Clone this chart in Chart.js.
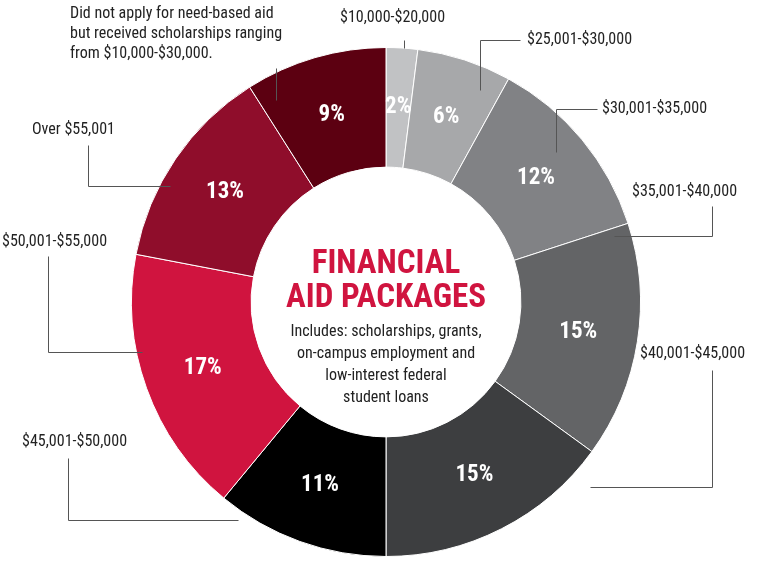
<!DOCTYPE html>
<html><head><meta charset="utf-8">
<script src="https://cdn.jsdelivr.net/npm/chart.js@4"></script>
<style>body{margin:0;background:#fff}canvas{display:block}</style>
</head><body>
<canvas id="c" width="762" height="575"></canvas>
<script>
const categories = ['$10,000-$20,000','$25,001-$30,000','$30,001-$35,000','$35,001-$40,000','$40,001-$45,000','$45,001-$50,000','$50,001-$55,000','Over $55,001','Did not apply for need-based aid'];
const shares = [2, 6, 12, 15, 15, 11, 17, 13, 9];
const colors = ['#c1c2c4','#a7a8aa','#818285','#636466','#3d3e40','#000000','#d0143f','#8f0d2b','#5c0011'];

const FONT = "'Liberation Sans Narrow','Roboto Condensed','Liberation Sans',sans-serif";

// label text + leader path per slice (layout only)
const callouts = [
  {lines:['$10,000-$20,000'], x:340, y:18, path:[[404,40],[404,48]]},
  {lines:['$25,001-$30,000'], x:527, y:40, path:[[480,90],[480,40],[520,40]]},
  {lines:['$30,001-$35,000'], x:602, y:109, path:[[556,152],[556,109],[597,109]]},
  {lines:['$35,001-$40,000'], x:632, y:192, path:[[614,236],[712,236],[712,206]]},
  {lines:['$40,001-$45,000'], x:640, y:354, path:[[590,487],[712,487],[712,370]]},
  {lines:['$45,001-$50,000'], x:22, y:442, path:[[68,458],[68,520],[238,520]]},
  {lines:['$50,001-$55,000'], x:2, y:242, path:[[48,256],[48,352],[142,352]]},
  {lines:['Over $55,001'], x:32, y:130, path:[[88,145],[88,186],[170,186]]},
  {lines:['Did not apply for need-based aid','but received scholarships ranging','from $10,000-$30,000.'], x:70, y:14, path:[[276,68],[276,100]]}
];

const overlay = {
  id:'overlay',
  afterDraw(chart){
    const g = chart.ctx;
    const meta = chart.getDatasetMeta(0);
    g.save();
    // percentages inside slices
    g.fillStyle = '#fff';
    g.font = 'bold 23px ' + FONT;
    g.textAlign = 'center'; g.textBaseline = 'middle';
    meta.data.forEach((arc,i)=>{
      const p = arc.getProps(['x','y','startAngle','endAngle','innerRadius','outerRadius'], true);
      const a = (p.startAngle + p.endAngle)/2;
      const r = (p.innerRadius + p.outerRadius)/2;
      g.fillText(shares[i] + '%', p.x + Math.cos(a)*r, p.y + Math.sin(a)*r);
    });
    // callouts
    g.strokeStyle = '#555'; g.lineWidth = 1;
    g.fillStyle = '#222'; g.font = '16px ' + FONT;
    g.textAlign = 'left'; g.textBaseline = 'middle';
    callouts.forEach(c=>{
      g.beginPath();
      c.path.forEach((pt,k)=> k ? g.lineTo(pt[0]+.5,pt[1]+.5) : g.moveTo(pt[0]+.5,pt[1]+.5));
      g.stroke();
      c.lines.forEach((t,k)=> g.fillText(t, c.x, c.y + k*20));
    });
    // center title
    const cx = meta.data[0].x, cy = meta.data[0].y;
    g.textAlign = 'center';
    g.fillStyle = '#d0143f'; g.font = 'bold 33px ' + FONT;
    g.fillText('FINANCIAL', cx, cy - 37);
    g.fillText('AID PACKAGES', cx, cy - 3);
    g.fillStyle = '#222'; g.font = '16px ' + FONT;
    ['Includes: scholarships, grants,','on-campus employment and','low-interest federal','student loans'].forEach((t,k)=>g.fillText(t, cx, cy + 30 + k*22));
    g.restore();
  }
};

new Chart(document.getElementById('c'), {
  type:'doughnut',
  data:{labels:categories, datasets:[{data:shares, backgroundColor:colors, borderColor:'#fff', borderWidth:1}]},
  options:{
    responsive:false, animation:false, cutout:'53%',
    layout:{padding:{top:47,bottom:18,left:131,right:121}},
    plugins:{legend:{display:false}, tooltip:{enabled:false}}
  },
  plugins:[overlay]
});
</script>
</body></html>
